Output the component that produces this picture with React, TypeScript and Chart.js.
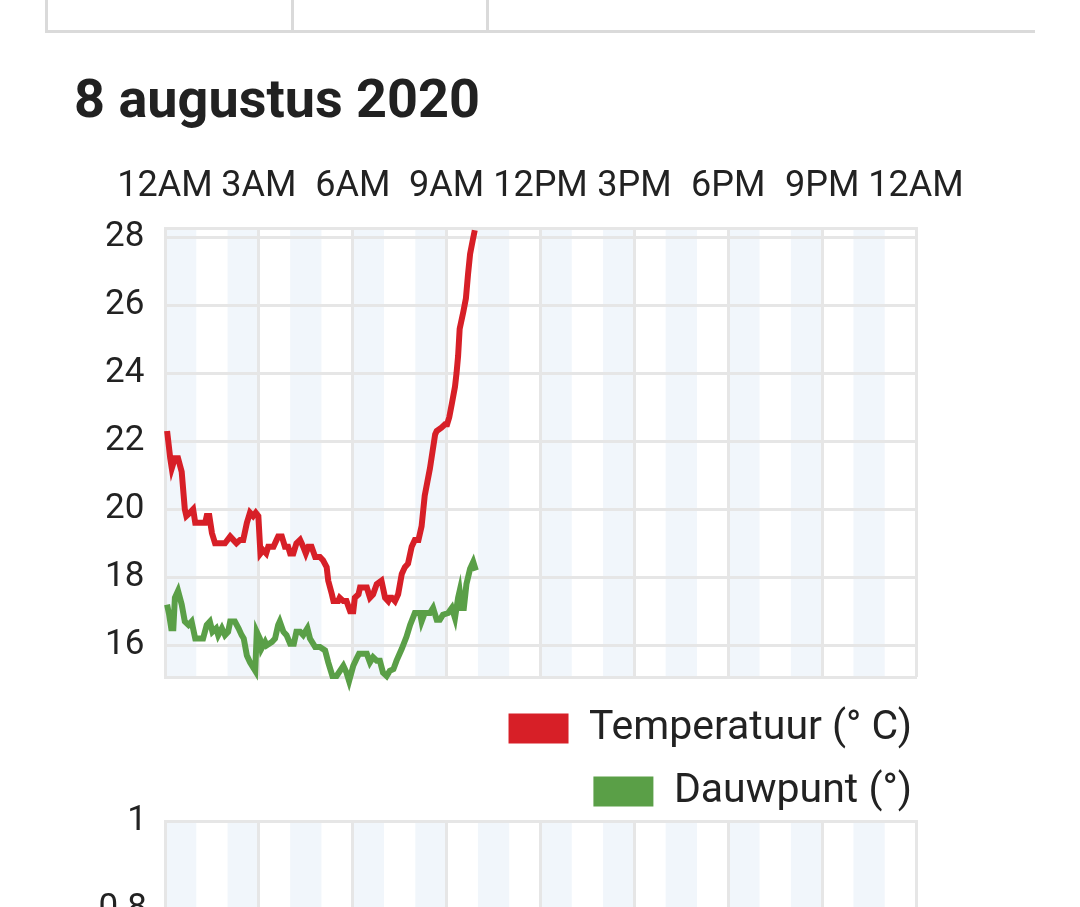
import React, { useEffect, useRef } from 'react';
import { Chart, registerables } from 'chart.js';

Chart.register(...registerables);

const hourLabels = ['12AM', '3AM', '6AM', '9AM', '12PM', '3PM', '6PM', '9PM', '12AM'];
const seriesNames = ['Temperatuur (° C)', 'Dauwpunt (°)'];

// minutes after midnight
const tempMinutes = [
    4, 10, 13, 19, 25, 32, 38, 41, 48, 54, 58, 77, 80, 85, 90, 96, 115, 125, 131, 137,
    144, 150, 157, 163, 169, 174, 179, 183, 188, 194, 198, 208, 214, 217, 224, 230, 236, 240, 246, 252,
    259, 265, 270, 275, 281, 288, 297, 303, 310, 313, 320, 323, 332, 335, 342, 348, 355, 361, 364, 371,
    374, 387, 393, 399, 406, 415, 422, 428, 431, 435, 441, 447, 454, 460, 466, 473, 479, 486, 492, 498,
    508, 518, 521, 530, 537, 541, 545, 550, 556, 559, 562, 565, 572, 577, 581, 585, 590, 594,
];
const tempValues = [
    22.3, 21.5, 21.2, 21.5, 21.5, 21.1, 20.0, 19.8, 19.9, 20.0, 19.6, 19.6, 19.8, 19.8, 19.3, 19.0, 19.0, 19.2, 19.1, 19.0,
    19.1, 19.1, 19.6, 19.9, 19.8, 19.9, 19.8, 18.7, 18.8, 18.7, 18.9, 18.9, 19.1, 19.2, 19.2, 18.9, 18.9, 18.7, 18.7, 19.0,
    19.1, 18.9, 18.7, 18.9, 18.9, 18.6, 18.6, 18.5, 18.3, 17.9, 17.5, 17.3, 17.3, 17.4, 17.3, 17.3, 17.0, 17.0, 17.4, 17.5,
    17.7, 17.7, 17.4, 17.5, 17.8, 17.9, 17.4, 17.3, 17.4, 17.4, 17.3, 17.5, 18.1, 18.3, 18.4, 18.9, 19.1, 19.1, 19.5, 20.4,
    21.2, 22.2, 22.3, 22.4, 22.5, 22.5, 22.7, 23.1, 23.6, 24.0, 24.5, 25.3, 25.8, 26.2, 26.9, 27.5, 27.9, 28.2,
];
const dewMinutes = [
    4, 8, 12, 16, 19, 25, 32, 38, 45, 51, 58, 73, 80, 86, 91, 98, 102, 109, 115, 121,
    125, 134, 141, 147, 151, 157, 163, 173, 176, 182, 185, 192, 195, 205, 211, 217, 220, 227, 233, 240,
    247, 252, 259, 265, 273, 278, 288, 297, 307, 313, 321, 329, 342, 348, 353, 361, 367, 372, 387, 393,
    399, 406, 412, 418, 425, 431, 438, 444, 454, 463, 470, 479, 489, 492, 498, 508, 514, 521, 527, 533,
    543, 550, 556, 562, 565, 569, 573, 578, 585, 591, 596,
];
const dewValues = [
    17.2, 16.9, 16.5, 16.5, 17.4, 17.6, 17.2, 16.7, 16.6, 16.7, 16.2, 16.2, 16.6, 16.7, 16.4, 16.5, 16.3, 16.5, 16.3, 16.4,
    16.7, 16.7, 16.5, 16.3, 16.2, 15.7, 15.5, 15.25, 16.4, 16.2, 15.9, 16.1, 16.0, 16.1, 16.2, 16.6, 16.7, 16.4, 16.3, 16.05,
    16.05, 16.4, 16.4, 16.3, 16.5, 16.2, 15.95, 15.95, 15.85, 15.5, 15.1, 15.1, 15.4, 15.2, 14.95, 15.4, 15.6, 15.75, 15.75, 15.5,
    15.65, 15.55, 15.55, 15.2, 15.1, 15.25, 15.3, 15.55, 15.9, 16.25, 16.6, 16.95, 16.95, 16.7, 16.95, 16.95, 17.1, 16.75, 16.75, 16.9,
    16.95, 17.1, 16.8, 17.4, 17.6, 17.1, 17.1, 17.8, 18.25, 18.45, 18.2,
];

const RED = '#d71f27';
const GREEN = '#5a9f47';
const GRID = '#e6e6e6';
const BAND = '#f1f6fb';
const TEXT = '#222222';
const FONT = 'Roboto';

Chart.defaults.font.family = FONT;

// light band behind every other hour
const hourBands = {
    id: 'hourBands',
    beforeDraw(chart: any) {
        const { ctx, chartArea } = chart;
        const x = chart.scales.x;
        ctx.save();
        ctx.fillStyle = BAND;
        for (let h = 0; h < 24; h += 2) {
            const left = x.getPixelForValue(h);
            const right = x.getPixelForValue(h + 1);
            ctx.fillRect(left, chartArea.top, right - left, chartArea.bottom - chartArea.top);
        }
        ctx.restore();
    },
};

const toPoints = (minutes: number[], values: number[]) =>
    minutes.map((m, i) => ({ x: m / 60, y: values[i] }));

const TemperatureChart: React.FC = () => {
    const chartRef = useRef<HTMLCanvasElement | null>(null);
    const chartInstance = useRef<Chart | null>(null);

    useEffect(() => {
        if (!chartRef.current) return;
        chartInstance.current = new Chart(chartRef.current, {
            type: 'line',
            data: {
                datasets: [
                    {
                        label: seriesNames[0],
                        data: toPoints(tempMinutes, tempValues),
                        borderColor: RED,
                        backgroundColor: RED,
                        borderWidth: 6,
                        pointRadius: 0,
                        tension: 0,
                        clip: false,
                    },
                    {
                        label: seriesNames[1],
                        data: toPoints(dewMinutes, dewValues),
                        borderColor: GREEN,
                        backgroundColor: GREEN,
                        borderWidth: 6,
                        pointRadius: 0,
                        tension: 0,
                        clip: false,
                    },
                ],
            },
            options: {
                animation: false,
                responsive: true,
                maintainAspectRatio: false,
                // wide left padding keeps the legend narrow, so each entry gets its own row
                layout: { padding: { top: 5, right: 66, left: 100, bottom: 0 } },
                plugins: {
                    tooltip: { enabled: false },
                    legend: {
                        position: 'bottom',
                        align: 'end',
                        labels: {
                            boxWidth: 60,
                            boxHeight: 30,
                            padding: 22,
                            color: TEXT,
                            font: { family: FONT, size: 41 },
                            generateLabels: (chart: any) =>
                                Chart.defaults.plugins.legend.labels
                                    .generateLabels(chart)
                                    .map((l: any) => ({ ...l, lineWidth: 0 })),
                        },
                    },
                },
                scales: {
                    x: {
                        type: 'linear',
                        position: 'top',
                        min: 0,
                        max: 24,
                        ticks: {
                            stepSize: 3,
                            autoSkip: false,
                            maxRotation: 0,
                            padding: 20,
                            color: TEXT,
                            font: { family: FONT, size: 36 },
                            callback: (v: any) => hourLabels[Math.round(Number(v) / 3)],
                        },
                        grid: { color: GRID, lineWidth: 3, drawTicks: false },
                        border: { color: GRID, width: 3 },
                    },
                    // only there for the bottom edge of the plot and a small gap above the legend
                    x2: {
                        type: 'linear',
                        position: 'bottom',
                        min: 0,
                        max: 24,
                        ticks: { display: false },
                        grid: { display: false },
                        border: { color: GRID, width: 3 },
                        afterFit: (s: any) => {
                            s.height = 9;
                        },
                    },
                    y: {
                        position: 'left',
                        min: 15.07,
                        max: 28.26,
                        ticks: {
                            stepSize: 2,
                            includeBounds: false,
                            // mirrored labels are not clipped to the (narrow) axis box;
                            // the negative padding moves them back out to the left
                            mirror: true,
                            padding: -60,
                            color: TEXT,
                            font: { family: FONT, size: 35 },
                        },
                        grid: { color: GRID, lineWidth: 3, drawTicks: false },
                        border: { color: GRID, width: 3 },
                        afterFit: (s: any) => {
                            s.width = 5;
                        },
                    },
                    yR: {
                        position: 'right',
                        min: 0,
                        max: 1,
                        ticks: { display: false },
                        grid: { display: false },
                        border: { display: false },
                        afterFit: (s: any) => {
                            s.width = 18;
                        },
                    },
                },
            } as any,
            plugins: [hourBands],
        });
        return () => {
            if (chartInstance.current) {
                chartInstance.current.destroy();
            }
        };
    }, []);

    return (
        <div style={{ position: 'absolute', left: 60, top: 140, width: 940, height: 682 }}>
            <canvas ref={chartRef}></canvas>
        </div>
    );
};

// the next chart on the page, only its top is in view
const NextChart: React.FC = () => {
    const chartRef = useRef<HTMLCanvasElement | null>(null);
    const chartInstance = useRef<Chart | null>(null);

    useEffect(() => {
        if (!chartRef.current) return;
        chartInstance.current = new Chart(chartRef.current, {
            type: 'line',
            data: { datasets: [] },
            options: {
                animation: false,
                responsive: true,
                maintainAspectRatio: false,
                layout: { padding: { top: 0, right: 84, left: 0, bottom: 0 } },
                plugins: { legend: { display: false }, tooltip: { enabled: false } },
                scales: {
                    x: {
                        type: 'linear',
                        position: 'top',
                        min: 0,
                        max: 24,
                        ticks: { display: false, stepSize: 3 },
                        grid: { color: GRID, lineWidth: 3, drawTicks: false },
                        border: { color: GRID, width: 3 },
                    },
                    y: {
                        min: 0,
                        max: 1,
                        ticks: {
                            stepSize: 0.2,
                            padding: 18,
                            color: TEXT,
                            font: { family: FONT, size: 35 },
                            callback: (v: any) => String(+Number(v).toFixed(1)),
                        },
                        grid: { color: GRID, lineWidth: 3, drawTicks: false },
                        border: { color: GRID, width: 3 },
                        afterFit: (s: any) => {
                            s.width = 105;
                        },
                    },
                },
            } as any,
            plugins: [hourBands],
        });
        return () => {
            if (chartInstance.current) {
                chartInstance.current.destroy();
            }
        };
    }, []);

    return (
        <div style={{ position: 'absolute', left: 60, top: 782, width: 940, height: 520 }}>
            <canvas ref={chartRef}></canvas>
        </div>
    );
};

const line = '#dadada';

const App: React.FC = () => {
    return (
        <div
            style={{
                position: 'absolute',
                left: 0,
                top: 0,
                width: 1080,
                height: 907,
                overflow: 'hidden',
                background: '#fff',
                fontFamily: FONT,
            }}
        >
            {/* bottom of the table above */}
            <div style={{ position: 'absolute', left: 45, top: 0, width: 3, height: 33, background: line }} />
            <div style={{ position: 'absolute', left: 291, top: 0, width: 3, height: 33, background: line }} />
            <div style={{ position: 'absolute', left: 486, top: 0, width: 3, height: 33, background: line }} />
            <div style={{ position: 'absolute', left: 45, top: 30, width: 990, height: 3, background: line }} />
            <div
                style={{
                    position: 'absolute',
                    left: 74,
                    top: 72,
                    fontSize: 54,
                    lineHeight: '54px',
                    fontWeight: 700,
                    color: '#212121',
                    whiteSpace: 'nowrap',
                }}
            >
                8 augustus 2020
            </div>
            <TemperatureChart />
            <NextChart />
        </div>
    );
};

export default App;
